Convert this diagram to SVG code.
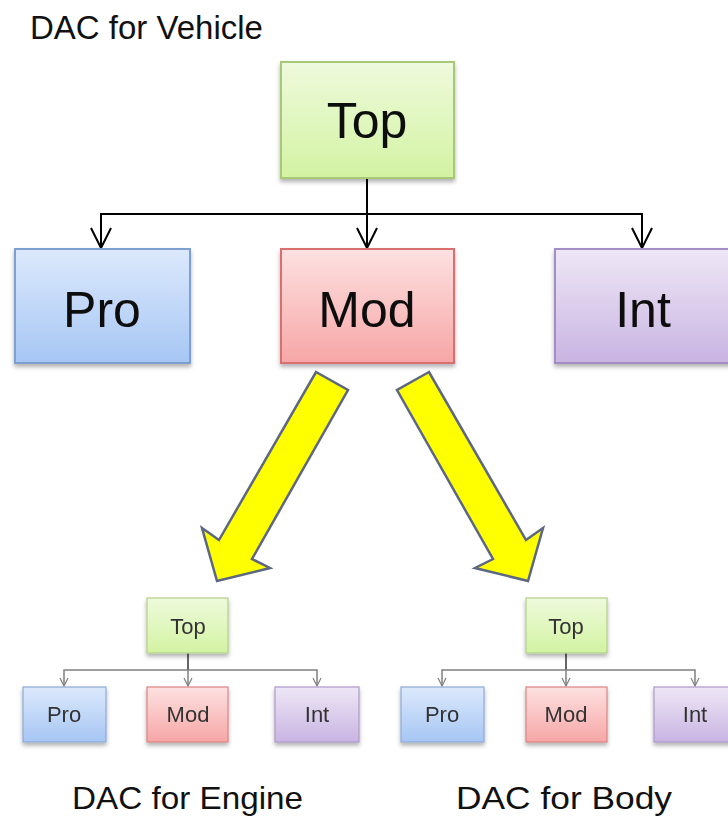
<svg xmlns="http://www.w3.org/2000/svg" width="728" height="818" viewBox="0 0 728 818">
<defs>
<linearGradient id="gGreen" x1="0" y1="0" x2="0" y2="1"><stop offset="0" stop-color="#eefadc"/><stop offset="1" stop-color="#d3f3a2"/></linearGradient>
<linearGradient id="gBlue" x1="0" y1="0" x2="0" y2="1"><stop offset="0" stop-color="#dce9fc"/><stop offset="1" stop-color="#a6c6f4"/></linearGradient>
<linearGradient id="gRed" x1="0" y1="0" x2="0" y2="1"><stop offset="0" stop-color="#fde1e1"/><stop offset="1" stop-color="#f7a6a6"/></linearGradient>
<linearGradient id="gPurple" x1="0" y1="0" x2="0" y2="1"><stop offset="0" stop-color="#eee7f6"/><stop offset="1" stop-color="#c9b4e2"/></linearGradient>
<filter id="sh" x="-10%" y="-10%" width="120%" height="130%"><feDropShadow dx="0" dy="3" stdDeviation="2" flood-color="#000" flood-opacity="0.3"/></filter>
</defs>
<style>
.txt{font-family:"Liberation Sans",Arial,sans-serif;fill:#111;}
.big{font-size:50px;text-anchor:middle;}
.small{font-size:22px;text-anchor:middle;fill:#333;}
.cap{font-size:33px;}
.cap2{font-size:32px;}
.green{fill:url(#gGreen);stroke:#a8c878;stroke-width:2;}
.blue{fill:url(#gBlue);stroke:#7f9fd0;stroke-width:2;}
.red{fill:url(#gRed);stroke:#d87070;stroke-width:2;}
.purple{fill:url(#gPurple);stroke:#a48cc4;stroke-width:2;}
.sgreen{fill:url(#gGreen);stroke:#b3d08a;stroke-width:1.2;}
.sblue{fill:url(#gBlue);stroke:#8eaad6;stroke-width:1.2;}
.sred{fill:url(#gRed);stroke:#dd8484;stroke-width:1.2;}
.spurple{fill:url(#gPurple);stroke:#ae98cb;stroke-width:1.2;}
.conn{fill:none;stroke:#000;stroke-width:2;}
.sconn{fill:none;stroke:#808080;stroke-width:1.5;}
.sah{fill:none;stroke:#808080;stroke-width:1.2;}
.yarrow{fill:#ffff00;stroke:#5c6782;stroke-width:2.5;stroke-linejoin:miter;}
</style>
<rect width="728" height="818" fill="#fff"/>

<text class="txt cap" x="30" y="39">DAC for Vehicle</text>

<g id="connectors">
<line class="conn" x1="367" y1="178" x2="367" y2="214"/>
<polyline class="conn" points="101,248 101,214 642,214 642,248"/>
<line class="conn" x1="367" y1="214" x2="367" y2="248"/>
<path class="conn" d="M91,228 L101,248 L111,228 M357,228 L367,248 L377,228 M632,228 L642,248 L652,228"/>
<!-- small left -->
<line class="sconn" x1="188" y1="653" x2="188" y2="670" style="stroke:#333"/>
<polyline class="sconn" points="64,686 64,670 317,670 317,686"/>
<line class="sconn" x1="188" y1="670" x2="188" y2="686"/>
<path class="sah" d="M60,678 L64,686 L68,678 M184,678 L188,686 L192,678 M313,678 L317,686 L321,678"/>
<!-- small right -->
<line class="sconn" x1="566" y1="653" x2="566" y2="670" style="stroke:#333"/>
<polyline class="sconn" points="442,686 442,670 695,670 695,686"/>
<line class="sconn" x1="566" y1="670" x2="566" y2="686"/>
<path class="sah" d="M438,678 L442,686 L446,678 M562,678 L566,686 L570,678 M691,678 L695,686 L699,678"/>
</g>

<g id="yellow-arrows">
<polygon class="yarrow" points="316,372 348,390 252,559 270,568 217,581 202,528 219,540"/>
<polygon class="yarrow" points="429,372 397,390 493,559 475,568 528,581 543,528 526,540"/>
</g>

<g id="top" filter="url(#sh)"><rect class="green" x="281" y="62" width="173" height="116"/><text class="txt big" x="367" y="138">Top</text></g>
<g id="pro" filter="url(#sh)"><rect class="blue" x="15" y="249" width="175" height="114"/><text class="txt big" x="102" y="327">Pro</text></g>
<g id="mod" filter="url(#sh)"><rect class="red" x="281" y="249" width="173" height="114"/><text class="txt big" x="367" y="327">Mod</text></g>
<g id="int" filter="url(#sh)"><rect class="purple" x="555" y="249" width="180" height="114"/><text class="txt big" x="643" y="327">Int</text></g>

<g id="engine-top" filter="url(#sh)"><rect class="sgreen" x="147" y="598" width="81" height="55"/><text class="txt small" x="188" y="634">Top</text></g>
<g id="engine-pro" filter="url(#sh)"><rect class="sblue" x="23" y="687" width="83" height="55"/><text class="txt small" x="64" y="722">Pro</text></g>
<g id="engine-mod" filter="url(#sh)"><rect class="sred" x="147" y="687" width="81" height="55"/><text class="txt small" x="188" y="722">Mod</text></g>
<g id="engine-int" filter="url(#sh)"><rect class="spurple" x="275" y="687" width="84" height="55"/><text class="txt small" x="317" y="722">Int</text></g>
<text class="txt cap2" x="72" y="809" textLength="231" lengthAdjust="spacingAndGlyphs">DAC for Engine</text>

<g id="body-top" filter="url(#sh)"><rect class="sgreen" x="526" y="598" width="81" height="55"/><text class="txt small" x="566" y="634">Top</text></g>
<g id="body-pro" filter="url(#sh)"><rect class="sblue" x="401" y="687" width="83" height="55"/><text class="txt small" x="442" y="722">Pro</text></g>
<g id="body-mod" filter="url(#sh)"><rect class="sred" x="526" y="687" width="81" height="55"/><text class="txt small" x="566" y="722">Mod</text></g>
<g id="body-int" filter="url(#sh)"><rect class="spurple" x="654" y="687" width="84" height="55"/><text class="txt small" x="695" y="722">Int</text></g>
<text class="txt cap2" x="456" y="809" textLength="216" lengthAdjust="spacingAndGlyphs">DAC for Body</text>
</svg>
